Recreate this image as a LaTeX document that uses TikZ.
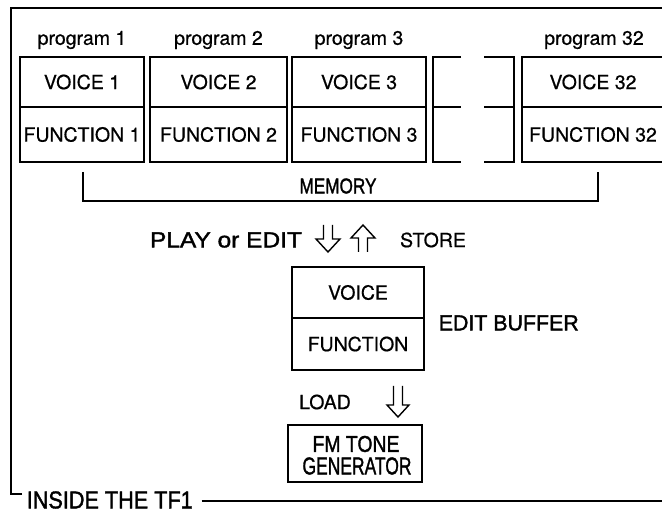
\documentclass[tikz,border=0pt]{standalone}
\usepackage{fontspec}
\setmainfont[FakeBold=0.6]{TeX Gyre Heros}
\newfontfamily\plotfont[FakeBold=1.6]{Liberation Sans}
\newcommand\hv{\fontsize{19.5}{22}\selectfont}
\newcommand\plt[3]{\resizebox{#1pt}{#2pt}{\plotfont #3}}
\begin{document}
\begin{tikzpicture}[x=1pt,y=-1pt,line width=1.5pt,
  cell/.style={draw,inner sep=0pt,font=\hv},
  lab/.style={inner sep=0pt,font=\hv},
  pl/.style={inner sep=0pt},
  hollow/.style={line width=1.4pt,line join=miter}]
\useasboundingbox (0,0) rectangle (662,518);
% outer frame
\draw (22,494) -- (11,494) -- (11,8) -- (662,8);
\node[pl,anchor=west] (inside) at (26,500) {\plt{166}{17}{INSIDE THE TF1}};
\coordinate (frameend) at (662,501);
\draw (inside.east |- frameend) ++(8,0) -- (frameend);
% program labels
\node[lab] (p1) at (82,40) {program 1};
\node[lab] (p2) at (218.5,40) {program 2};
\node[lab] (p3) at (359,40) {program 3};
\node[lab] (p32) at (594,40) {program 32};
% program boxes
\node[cell,minimum width=124pt,minimum height=50pt] (v1) at (82,82) {VOICE 1};
\node[cell,minimum width=124pt,minimum height=55pt] (f1) at (82,134.5) {FUNCTION 1};
\node[cell,minimum width=137pt,minimum height=50pt] (v2) at (218.5,82) {VOICE 2};
\node[cell,minimum width=137pt,minimum height=55pt] (f2) at (218.5,134.5) {FUNCTION 2};
\node[cell,minimum width=134pt,minimum height=50pt] (v3) at (359,82) {VOICE 3};
\node[cell,minimum width=134pt,minimum height=55pt] (f3) at (359,134.5) {FUNCTION 3};
\node[cell,minimum width=142pt,minimum height=50pt] (v32) at (593,82) {VOICE 32};
\node[cell,minimum width=142pt,minimum height=55pt] (f32) at (593,134.5) {FUNCTION 32};
% broken blank box
\draw (461,57) -- (433,57) -- (433,162) -- (461,162);
\draw (433,107) -- (461,107);
\draw (484,57) -- (514,57) -- (514,162) -- (484,162);
\draw (484,107) -- (514,107);
% memory bracket
\draw (83,172) -- (83,201) -- (598,201) -- (598,172);
\node[pl] (mem) at (338,186) {\plt{77}{15}{MEMORY}};
% play / store
\node[pl] (play) at (226,240) {\plt{152}{15}{PLAY or EDIT}};
\node[lab] (store) at (433,240) {STORE};
\draw[hollow] (323.5,225) -- (323.5,239) -- (316,239) -- (328,252) -- (340,239) -- (332.5,239) -- (332.5,225);
\draw[hollow] (358.5,252) -- (358.5,238) -- (351,238) -- (363,225) -- (375,238) -- (367.5,238) -- (367.5,252);
% edit buffer
\node[cell,minimum width=132pt,minimum height=51pt] (ev) at (358,292.5) {VOICE};
\node[cell,minimum width=132pt,minimum height=52pt] (ef) at (358,344) {FUNCTION};
\node[pl,anchor=west] (eb) at (438,323) {\plt{140}{15}{EDIT BUFFER}};
% load
\node[lab] (load) at (325,402) {LOAD};
\draw[hollow] (393.5,386) -- (393.5,405) -- (387,405) -- (398,417) -- (409,405) -- (402.5,405) -- (402.5,386);
% FM tone generator
\node[draw,inner sep=0pt,minimum width=134pt,minimum height=57pt] (fm) at (355,453.5) {};
\node[pl] (fm1) at (356,444) {\plt{87}{16}{FM TONE}};
\node[pl] (fm2) at (357,466) {\plt{109}{17}{GENERATOR}};
\end{tikzpicture}
\end{document}
